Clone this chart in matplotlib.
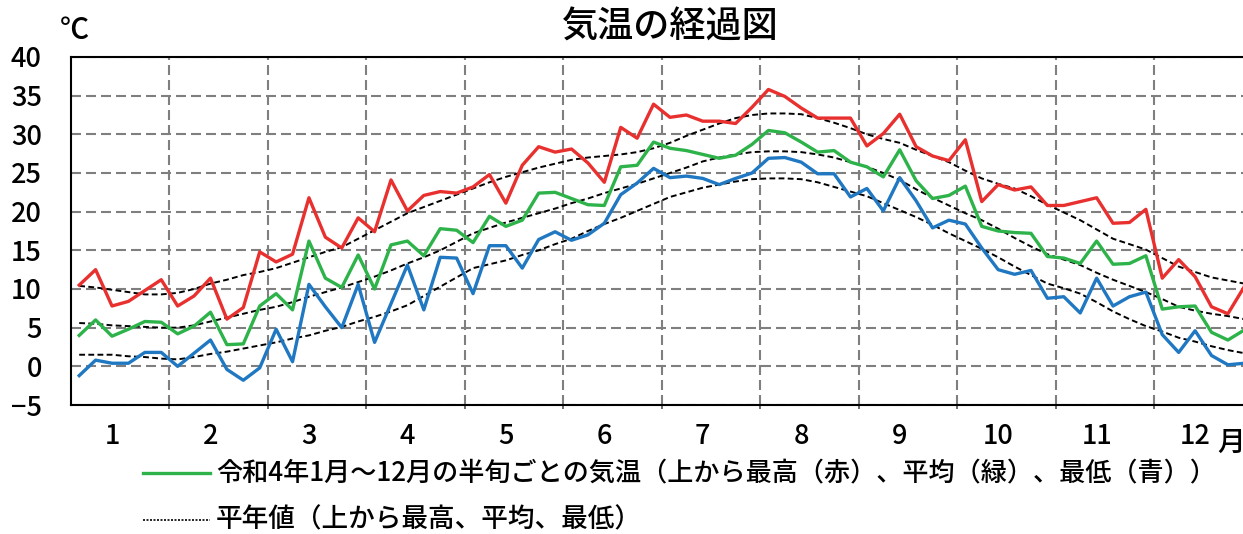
import matplotlib
matplotlib.use("Agg")
import matplotlib.pyplot as plt
from matplotlib.lines import Line2D
import numpy as np

plt.rcParams['font.family'] = ['Noto Sans CJK JP', 'DejaVu Sans']
plt.rcParams['font.weight'] = 'medium'

# 半旬 (5-day period) values, 6 per month, Jan..Dec
t_max = [10.5, 12.5, 7.8, 8.4, 9.8, 11.2, 7.8, 9.1, 11.4, 6.1, 7.6, 14.8,
         13.5, 14.5, 21.8, 16.7, 15.3, 19.2, 17.4, 24.1, 20.1, 22.1, 22.6, 22.4,
         23.2, 24.8, 21.1, 26.0, 28.4, 27.7, 28.1, 26.3, 23.8, 30.9, 29.5, 33.9,
         32.2, 32.5, 31.7, 31.7, 31.4, 33.5, 35.8, 34.9, 33.4, 32.1, 32.1, 32.1,
         28.5, 30.1, 32.6, 28.4, 27.2, 26.6, 29.3, 21.3, 23.5, 22.8, 23.2, 20.8,
         20.8, 21.3, 21.8, 18.5, 18.6, 20.3, 11.4, 13.8, 11.6, 7.7, 6.8, 10.3]
t_mean = [4.0, 6.0, 3.9, 4.8, 5.8, 5.7, 4.2, 5.2, 7.0, 2.8, 2.9, 7.8,
          9.4, 7.3, 16.2, 11.4, 10.2, 14.4, 10.0, 15.7, 16.2, 14.3, 17.8, 17.6,
          16.0, 19.4, 18.1, 18.9, 22.4, 22.5, 21.7, 20.9, 20.8, 25.8, 26.0, 29.0,
          28.2, 27.9, 27.4, 26.9, 27.3, 28.7, 30.5, 30.2, 29.0, 27.7, 27.9, 26.4,
          25.8, 24.5, 28.0, 24.0, 21.7, 22.1, 23.3, 18.1, 17.5, 17.3, 17.2, 14.2,
          14.0, 13.3, 16.2, 13.2, 13.3, 14.3, 7.4, 7.7, 7.8, 4.4, 3.4, 4.7]
t_min = [-1.2, 0.8, 0.4, 0.4, 1.8, 1.8, 0.0, 1.7, 3.4, -0.4, -1.8, -0.2,
         4.8, 0.6, 10.6, 7.7, 5.0, 10.6, 3.1, 8.1, 13.1, 7.3, 14.1, 14.0,
         9.4, 15.6, 15.6, 12.7, 16.4, 17.4, 16.3, 17.0, 18.5, 22.2, 23.7, 25.6,
         24.4, 24.6, 24.3, 23.5, 24.3, 25.0, 26.9, 27.0, 26.4, 24.9, 24.9, 21.9,
         23.0, 20.1, 24.4, 21.4, 17.9, 18.9, 18.4, 15.3, 12.5, 11.9, 12.4, 8.8,
         9.0, 6.9, 11.4, 7.8, 9.0, 9.6, 4.1, 1.8, 4.6, 1.4, 0.2, 0.4]

# 平年値
n_max = [10.4, 10.2, 9.9, 9.6, 9.3, 9.3, 9.5, 10.0, 10.7, 11.2, 11.8, 12.2,
         12.7, 13.4, 14.1, 14.8, 15.4, 16.5, 17.6, 18.7, 19.8, 20.6, 21.4, 22.2,
         23.0, 23.8, 24.5, 25.1, 25.7, 26.2, 26.7, 27.0, 27.2, 27.4, 27.7, 28.2,
         28.9, 29.8, 30.6, 31.4, 32.1, 32.5, 32.7, 32.7, 32.6, 32.1, 31.5, 30.8,
         30.0, 29.4, 28.9, 28.0, 27.2, 26.4, 25.3, 24.3, 23.6, 23.0, 22.0, 20.9,
         19.9, 18.9, 17.7, 16.5, 15.8, 15.1, 14.0, 12.9, 12.2, 11.5, 11.1, 10.7]
n_mean = [5.6, 5.5, 5.3, 5.2, 5.1, 5.0, 5.0, 5.3, 5.8, 6.3, 6.8, 7.3,
          7.7, 8.3, 9.0, 9.6, 10.2, 10.9, 11.6, 12.4, 13.3, 14.1, 15.0, 16.1,
          17.2, 17.9, 18.6, 19.2, 19.8, 20.4, 21.1, 21.7, 22.4, 23.0, 23.6, 24.3,
          25.0, 25.7, 26.5, 27.0, 27.4, 27.7, 27.8, 27.8, 27.7, 27.4, 27.0, 26.4,
          25.8, 25.0, 24.1, 22.9, 21.8, 20.8, 19.8, 18.9, 17.8, 16.6, 15.5, 14.5,
          13.8, 13.1, 12.1, 11.2, 10.4, 9.6, 8.7, 7.7, 7.2, 6.8, 6.5, 6.1]
n_min = [1.5, 1.5, 1.5, 1.3, 1.2, 1.0, 0.9, 1.2, 1.6, 1.9, 2.3, 2.7,
         3.1, 3.6, 4.0, 4.6, 5.1, 5.8, 6.4, 7.1, 7.9, 9.1, 10.3, 11.5,
         12.7, 13.2, 13.7, 14.4, 15.0, 15.8, 16.5, 17.5, 18.4, 19.2, 20.1, 21.0,
         21.9, 22.5, 23.1, 23.5, 23.9, 24.2, 24.3, 24.3, 24.2, 23.8, 23.2, 22.6,
         22.0, 21.1, 20.2, 19.3, 18.3, 17.2, 16.2, 15.2, 14.1, 12.9, 11.8, 10.7,
         10.1, 9.4, 8.3, 7.1, 6.1, 5.2, 4.5, 3.7, 3.2, 2.6, 2.1, 1.7]

months = [str(m) for m in range(1, 13)]
yticks = list(range(-5, 41, 5))

RED = '#e8302f'
GREEN = '#2db34a'
BLUE = '#1f78c1'
GRID = '#7f7f7f'

W, H = 1243, 534
fig = plt.figure(figsize=(W / 100, H / 100), dpi=100)
# plot area: left 71px, top 57px, bottom 405px, 16.41px per 半旬 (right edge cut off)
ax = fig.add_axes([71 / W, (H - 405) / H, 72 * 16.41 / W, 348 / H])

x = np.arange(len(t_max))
for s in (n_max, n_mean, n_min):
    ax.plot(x, s, color='black', lw=1.4, ls=(0, (3.0, 1.7)), zorder=3)
ax.plot(x, t_max, color=RED, lw=2.4, zorder=4)
ax.plot(x, t_mean, color=GREEN, lw=2.4, zorder=4)
ax.plot(x, t_min, color=BLUE, lw=2.4, zorder=4)

ax.set_xlim(-0.5, 71.5)
ax.set_ylim(-5, 40)

# month boundaries
ax.set_xticks(np.arange(5.5, 71, 6))
ax.set_xticklabels([])
ax.tick_params(axis='x', which='major', length=3, width=1.2, color='#555555', direction='out')
ax.set_xticks(np.arange(2, 72, 6), minor=True)
ax.set_xticklabels(months, minor=True, fontsize=19.5)
ax.tick_params(axis='x', which='minor', length=0, pad=13)

ax.set_yticks(yticks)
ax.set_yticklabels([str(v).replace('-', '−') for v in yticks], fontsize=19.5)
ax.tick_params(axis='y', length=0, pad=21)

ax.grid(True, which='major', color=GRID, lw=1.5, ls=(0, (4.8, 2.4)))
ax.set_axisbelow(True)
for sp in ax.spines.values():
    sp.set_linewidth(1.5)
    sp.set_color('black')

fig.text(1231 / W, 1 - 442 / H, '月', fontsize=20, ha='center', va='center')
fig.text(74 / W, 1 - 30 / H, '℃', fontsize=21, ha='center', va='center')
fig.text(670 / W, 1 - 28 / H, '気温の経過図', fontsize=26, ha='center', va='center')

# legend
fig.add_artist(Line2D([143 / W, 210 / W], [1 - 473 / H] * 2, color=GREEN, lw=2.4,
                      transform=fig.transFigure))
fig.text(216 / W, 1 - 473 / H, '令和4年1月～12月の半旬ごとの気温（上から最高（赤）、平均（緑）、最低（青））',
         fontsize=18.8, ha='left', va='center')
fig.add_artist(Line2D([143 / W, 210 / W], [1 - 520 / H] * 2, color='black', lw=1.2,
                      ls=(0, (1.2, 0.9)), transform=fig.transFigure))
fig.text(216 / W, 1 - 520 / H, '平年値（上から最高、平均、最低）',
         fontsize=19.2, ha='left', va='center')

fig.savefig('out.png', dpi=100)
